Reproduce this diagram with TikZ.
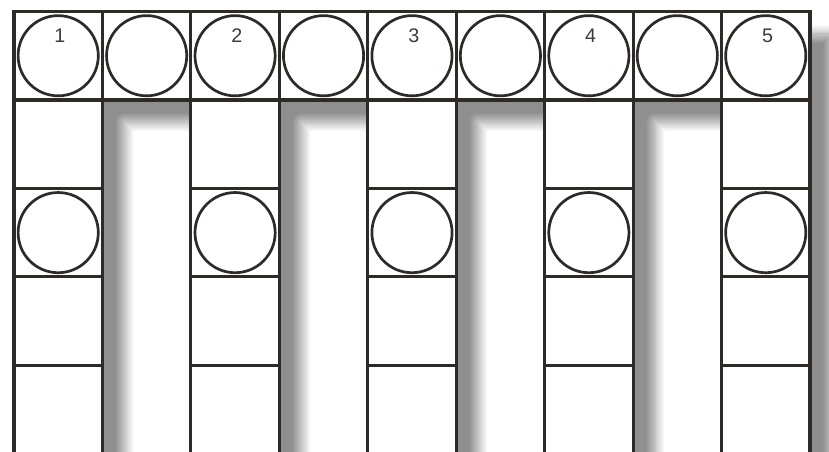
\documentclass[tikz,border=0pt]{standalone}
\usepackage{fontspec}
\setmainfont{Liberation Sans}
\usepackage{xcolor}
\usepackage{tikz}
\usetikzlibrary{shadows.blur}

\definecolor{inkline}{RGB}{45,42,40}
\definecolor{digitgray}{RGB}{60,58,56}

\newcommand{\combpath}{(0,0) -- (9,0) -- (9,-5.4) -- (8,-5.4) -- (8,-1) -- (7,-1) -- (7,-5.4) -- (6,-5.4) -- (6,-1) -- (5,-1)
    -- (5,-5.4) -- (4,-5.4) -- (4,-1) -- (3,-1) -- (3,-5.4) -- (2,-5.4) -- (2,-1) -- (1,-1) -- (1,-5.4) -- (0,-5.4) -- cycle}

\begin{document}
\begin{tikzpicture}[x=1.5cm,y=1.5cm,
  cellbox/.style={draw=inkline,line width=1.5pt,minimum size=1.5cm,inner sep=0pt},
  ring/.style={circle,draw=inkline,line width=1.3pt,minimum size=1.36cm,inner sep=0pt},
  num/.style={inner sep=0pt,text=digitgray,font=\fontsize{9.5}{10}\selectfont}]
  \useasboundingbox (-0.158,0.13) rectangle (9.215,-4.972);
  \clip (-0.158,0.13) rectangle (9.215,-4.972);
  % soft shadow under the comb
  \path[blur shadow={shadow xshift=0.38cm,shadow yshift=-0.38cm,shadow blur radius=0.16cm,shadow blur steps=20,shadow opacity=44}] \combpath;
  \fill[white] \combpath;
  % top row
  \node[cellbox] (t1) at (0.5,-0.5) {};
  \node[cellbox] (t2) at (1.5,-0.5) {};
  \node[cellbox] (t3) at (2.5,-0.5) {};
  \node[cellbox] (t4) at (3.5,-0.5) {};
  \node[cellbox] (t5) at (4.5,-0.5) {};
  \node[cellbox] (t6) at (5.5,-0.5) {};
  \node[cellbox] (t7) at (6.5,-0.5) {};
  \node[cellbox] (t8) at (7.5,-0.5) {};
  \node[cellbox] (t9) at (8.5,-0.5) {};
  \node[ring] (tc1) at (t1) {};
  \node[ring] (tc2) at (t2) {};
  \node[ring] (tc3) at (t3) {};
  \node[ring] (tc4) at (t4) {};
  \node[ring] (tc5) at (t5) {};
  \node[ring] (tc6) at (t6) {};
  \node[ring] (tc7) at (t7) {};
  \node[ring] (tc8) at (t8) {};
  \node[ring] (tc9) at (t9) {};
  \node[num] (n1) at (0.52,-0.27) {1};
  \node[num] (n2) at (2.52,-0.27) {2};
  \node[num] (n3) at (4.52,-0.27) {3};
  \node[num] (n4) at (6.52,-0.27) {4};
  \node[num] (n5) at (8.52,-0.27) {5};
  % columns
  \node[cellbox] (c1r2) at (0.5,-1.5) {};
  \node[cellbox] (c1r3) at (0.5,-2.5) {};
  \node[cellbox] (c1r4) at (0.5,-3.5) {};
  \node[cellbox] (c1r5) at (0.5,-4.5) {};
  \node[cellbox] (c2r2) at (2.5,-1.5) {};
  \node[cellbox] (c2r3) at (2.5,-2.5) {};
  \node[cellbox] (c2r4) at (2.5,-3.5) {};
  \node[cellbox] (c2r5) at (2.5,-4.5) {};
  \node[cellbox] (c3r2) at (4.5,-1.5) {};
  \node[cellbox] (c3r3) at (4.5,-2.5) {};
  \node[cellbox] (c3r4) at (4.5,-3.5) {};
  \node[cellbox] (c3r5) at (4.5,-4.5) {};
  \node[cellbox] (c4r2) at (6.5,-1.5) {};
  \node[cellbox] (c4r3) at (6.5,-2.5) {};
  \node[cellbox] (c4r4) at (6.5,-3.5) {};
  \node[cellbox] (c4r5) at (6.5,-4.5) {};
  \node[cellbox] (c5r2) at (8.5,-1.5) {};
  \node[cellbox] (c5r3) at (8.5,-2.5) {};
  \node[cellbox] (c5r4) at (8.5,-3.5) {};
  \node[cellbox] (c5r5) at (8.5,-4.5) {};
  \node[ring] (o1) at (c1r3) {};
  \node[ring] (o2) at (c2r3) {};
  \node[ring] (o3) at (c3r3) {};
  \node[ring] (o4) at (c4r3) {};
  \node[ring] (o5) at (c5r3) {};
\end{tikzpicture}
\end{document}
